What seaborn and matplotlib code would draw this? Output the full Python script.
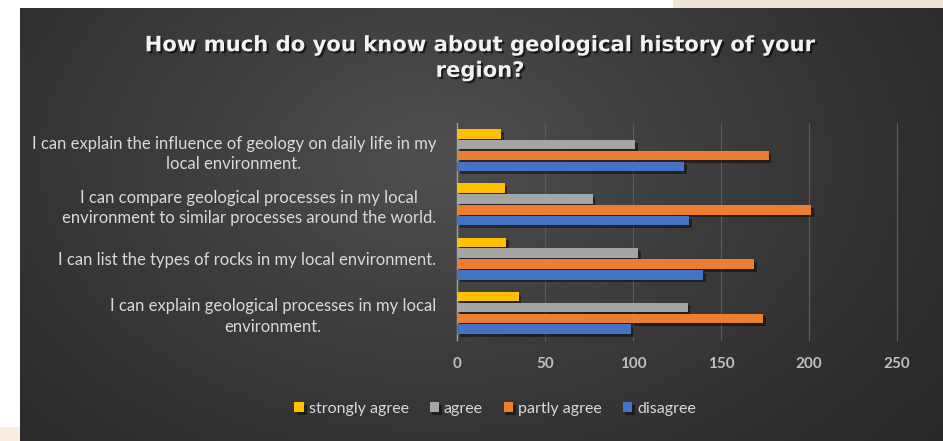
import numpy as np
import pandas as pd
import matplotlib
matplotlib.use("Agg")
import matplotlib.pyplot as plt
import matplotlib.patheffects as pe
from matplotlib.patches import Rectangle
import seaborn as sns

statements = [
    "I can explain the influence of geology on daily life in my\nlocal environment.",
    "I can compare geological processes in my local\nenvironment to similar processes around the world.",
    "I can list the types of rocks in my local environment.",
    "I can explain geological processes in my local\nenvironment.",
]
responses = ["strongly agree", "agree", "partly agree", "disagree"]
strongly_agree = [25, 27, 28, 35]
agree = [101, 77, 103, 131]
partly_agree = [177, 201, 169, 174]
disagree = [129, 132, 140, 99]
x_ticks = [0, 50, 100, 150, 200, 250]

palette = {"strongly agree": "#FFC000", "agree": "#A5A5A5",
           "partly agree": "#ED7D31", "disagree": "#4472C4"}

rows = []
for series, vals in zip(responses, [strongly_agree, agree, partly_agree, disagree]):
    for s, v in zip(statements, vals):
        rows.append({"statement": s, "response": series, "count": v})
df = pd.DataFrame(rows)

sns.set_theme(style="white")
plt.rcParams["font.family"] = ["Lato", "DejaVu Sans"]

W, H = 943, 441
fig = plt.figure(figsize=(W / 100, H / 100), dpi=100)
fig.patch.set_facecolor("white")

# cream page strip behind the panel
fig.patches.append(Rectangle((673 / W, 0), 1 - 673 / W, 1, transform=fig.transFigure,
                             facecolor="#F1E5D8", edgecolor="none", zorder=-3))
fig.patches.append(Rectangle((0, 0), 20 / W, 14 / H, transform=fig.transFigure,
                             facecolor="#F7EDE3", edgecolor="none", zorder=-3))

# dark panel with soft radial gradient
bg = fig.add_axes([20 / W, 0, 1 - 20 / W, 1 - 8 / H], zorder=-2)
gx, gy = np.meshgrid(np.linspace(0, 1, 400), np.linspace(0, 1, 200))
dist = np.sqrt(((gx - 0.45) / 0.75) ** 2 + ((gy - 0.35) / 1.1) ** 2)
shade = np.clip(1 - dist, 0, 1)
c_edge, c_mid = np.array([0.15, 0.15, 0.15]), np.array([0.31, 0.31, 0.31])
img = c_edge + (c_mid - c_edge) * shade[..., None] ** 1.2
bg.imshow(img, aspect="auto", extent=[0, 1, 0, 1], origin="upper")
bg.axis("off")

ax = fig.add_axes([457 / W, 1 - 340 / H, (897 - 457) / W, (340 - 123) / H])
ax.patch.set_alpha(0)
sns.barplot(data=df, y="statement", x="count", hue="response", order=statements,
            hue_order=responses, palette=palette, orient="h", width=0.8, gap=0.12,
            saturation=1, ax=ax, legend=True, zorder=3)
for bar in ax.patches:
    bar.set_edgecolor("none")
    bar.set_path_effects([pe.SimplePatchShadow(offset=(2, -2), shadow_rgbFace="black", alpha=0.45),
                          pe.Normal()])

ax.set_xlim(0, 250)
ax.set_xticks(x_ticks)
ax.set_xticklabels([str(t) for t in x_ticks], color="#BFBFBF", fontsize=11, fontweight="bold")
ax.tick_params(axis="x", length=0, pad=12)
ax.tick_params(axis="y", length=0, pad=15)
for lbl in ax.get_yticklabels():
    lbl.set_color("#D9D9D9")
    lbl.set_fontsize(12)
    lbl.set_multialignment("center")
    lbl.set_linespacing(1.35)
ax.set_xlabel("")
ax.set_ylabel("")
ax.grid(axis="x", color="#5A5A5A", linewidth=0.9, zorder=0)
for gl in ax.get_xgridlines():
    gl.set_clip_on(False)
ax.set_axisbelow(True)
for side in ["top", "right", "bottom"]:
    ax.spines[side].set_visible(False)
ax.spines["left"].set_color("#A0A0A0")
ax.spines["left"].set_linewidth(1.0)

handles, labels = ax.get_legend_handles_labels()
ax.get_legend().remove()
fig.legend(handles, labels, loc="center", bbox_to_anchor=(0.525, 1 - 409 / H), ncol=4,
           frameon=False, fontsize=11.5, labelcolor="#D9D9D9", handlelength=0.6,
           handleheight=0.6, handletextpad=0.3, columnspacing=1.3)

title = fig.text(0.509, 1 - 58 / H,
                 "How much do you know about geological history of your\nregion?",
                 ha="center", va="center", color="#F2F2F2", fontsize=15.2,
                 fontweight="bold", family=["DejaVu Sans"], linespacing=1.35)
title.set_path_effects([pe.withSimplePatchShadow(offset=(1.5, -1.5), shadow_rgbFace="black", alpha=0.6)])

fig.savefig("out.png", dpi=100)
